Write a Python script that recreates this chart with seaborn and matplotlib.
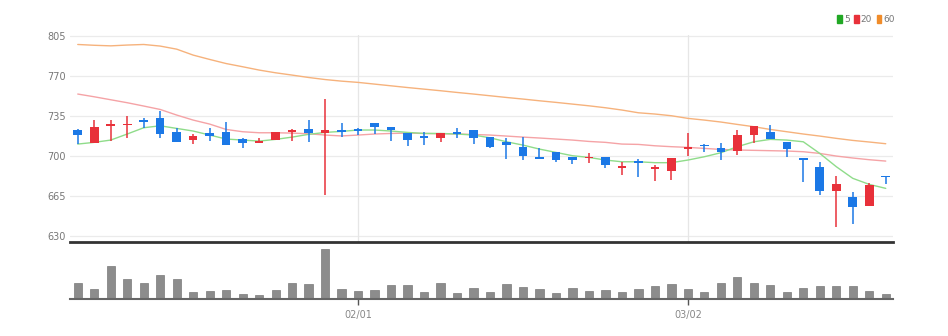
import numpy as np
import pandas as pd
import matplotlib
matplotlib.use("Agg")
import matplotlib.pyplot as plt
from matplotlib.patches import Patch
import seaborn as sns

# ---- data ----
opens = [722.8, 711.7, 726.5, 727.1, 731.5, 733.0, 721.3, 714.3, 719.8, 721.3,
         714.6, 711.4, 714.0, 720.7, 723.6, 720.4, 722.8, 723.6, 728.6, 725.1,
         719.8, 717.2, 716.0, 721.3, 722.8, 716.9, 712.0, 708.2, 699.4, 703.2,
         698.8, 698.0, 698.8, 689.2, 695.6, 688.6, 686.9, 706.1, 709.6, 707.3,
         704.4, 718.4, 720.7, 712.0, 698.5, 690.7, 669.4, 664.4, 656.5, 682.5]
closes = [718.4, 725.7, 727.7, 728.3, 730.0, 719.5, 712.0, 717.8, 717.5, 709.6,
          711.4, 713.1, 721.3, 722.8, 719.8, 722.5, 720.7, 721.9, 725.7, 723.0,
          714.0, 715.5, 719.8, 719.5, 715.5, 708.2, 709.6, 700.3, 697.4, 696.8,
          696.8, 699.4, 692.1, 691.0, 693.9, 690.4, 698.5, 707.9, 708.5, 703.8,
          718.4, 726.5, 714.6, 706.1, 696.8, 669.7, 675.2, 655.4, 674.6, 681.6]
highs = [723.5, 731.5, 731.5, 735.3, 733.5, 739.4, 724.2, 719.0, 724.8, 729.5,
         715.5, 716.0, 721.3, 723.6, 731.5, 749.9, 728.6, 724.8, 728.6, 725.1,
         719.8, 721.3, 719.8, 724.8, 722.8, 716.9, 715.5, 716.9, 706.7, 703.2,
         698.8, 702.9, 698.8, 695.0, 697.4, 692.1, 698.5, 719.8, 710.2, 711.1,
         722.8, 726.5, 727.1, 712.0, 698.5, 695.0, 682.5, 668.2, 676.1, 682.5]
lows = [710.5, 711.4, 713.0, 716.0, 724.8, 715.5, 712.0, 710.8, 713.1, 709.6,
        706.7, 711.0, 714.0, 713.0, 712.0, 665.9, 716.9, 718.4, 719.5, 713.1,
        709.0, 709.6, 712.5, 715.5, 710.2, 707.3, 697.4, 696.8, 697.4, 695.0,
        693.3, 693.6, 689.2, 683.4, 681.9, 678.4, 679.0, 700.3, 703.2, 696.5,
        700.9, 711.1, 714.6, 699.4, 677.0, 665.9, 638.2, 640.2, 656.5, 675.2]
volumes = [49, 29, 98, 59, 49, 71, 59, 22, 25, 27, 16, 13, 27, 47, 45, 150, 29, 25,
           27, 43, 43, 22, 49, 17, 33, 22, 45, 36, 29, 17, 33, 25, 26, 22, 29, 39,
           45, 31, 20, 47, 66, 48, 43, 22, 33, 40, 40, 38, 25, 16]
ma5 = [710.5, 712.0, 714.0, 719.3, 724.8, 726.5, 724.2, 721.9, 718.4, 714.9,
       714.0, 713.1, 714.6, 716.6, 719.0, 720.7, 721.6, 722.8, 722.8, 721.9,
       720.7, 719.8, 719.8, 719.3, 718.4, 716.0, 712.5, 709.6, 706.1, 703.2,
       700.3, 698.8, 696.5, 695.0, 695.0, 694.2, 694.2, 696.5, 699.4, 702.9,
       708.2, 712.5, 714.6, 714.0, 712.5, 702.3, 690.7, 680.5, 675.2, 671.7]
ma20 = [754.3, 751.9, 749.3, 746.7, 743.8, 740.8, 735.9, 731.5, 728.0, 723.3,
        721.3, 720.4, 720.4, 720.1, 719.5, 718.4, 717.6, 718.4, 719.3, 719.8,
        720.1, 719.8, 719.5, 719.3, 718.9, 718.4, 717.5, 716.6, 715.8, 714.9,
        714.0, 712.8, 712.0, 710.5, 710.2, 709.0, 708.2, 707.6, 706.7, 705.8,
        705.3, 705.0, 704.7, 704.4, 703.8, 702.3, 700.0, 698.3, 696.8, 695.6]
ma60 = [797.7, 797.0, 796.5, 797.2, 797.7, 796.3, 793.6, 788.4, 784.6, 781.0,
        778.2, 775.3, 772.9, 770.9, 768.8, 767.0, 765.6, 764.5, 763.0, 761.5,
        760.0, 758.6, 757.2, 755.7, 754.3, 752.8, 751.3, 749.9, 748.4, 747.0,
        745.5, 744.0, 742.3, 740.3, 737.9, 736.8, 735.3, 733.0, 731.5, 729.8,
        727.7, 725.7, 723.3, 721.3, 719.3, 717.5, 715.5, 713.7, 712.3, 710.8]
tick_index = [17, 37]
tick_labels = ["02/01", "03/02"]
y_ticks = [630, 665, 700, 735, 770, 805]
ma_names = ["5", "20", "60"]

df = pd.DataFrame({"idx": np.arange(len(opens)), "open": opens, "close": closes,
                   "high": highs, "low": lows, "volume": volumes,
                   "ma5": ma5, "ma20": ma20, "ma60": ma60})

UP = "#e8313a"
DOWN = "#1b78e6"
sns.set_theme(style="white")
plt.rcParams["font.family"] = ["Liberation Sans Narrow", "DejaVu Sans"]

fig = plt.figure(figsize=(9.48, 3.36), dpi=100)
L, R = 70 / 948, 893 / 948
ax = fig.add_axes([L, 1 - 242 / 336, R - L, (242 - 35) / 336])
axv = fig.add_axes([L, 1 - 299 / 336, R - L, (299 - 246) / 336], sharex=ax)

# grid
for y in y_ticks:
    ax.axhline(y, color="#ebebeb", lw=0.9, zorder=0)
for t in tick_index:
    ax.axvline(t, color="#e6e6e6", lw=0.9, zorder=0)

# moving averages
sns.lineplot(data=df, x="idx", y="ma60", ax=ax, color="#f6b27c", lw=1.0, zorder=2)
sns.lineplot(data=df, x="idx", y="ma20", ax=ax, color="#f5a3a6", lw=1.0, zorder=2)
sns.lineplot(data=df, x="idx", y="ma5", ax=ax, color="#8fdc8a", lw=1.0, zorder=2)

# candles
up = df["close"] >= df["open"]
colors = np.where(up, UP, DOWN)
ax.vlines(df["idx"], df["low"], df["high"], colors=colors, lw=1.1, zorder=3)
body_lo = np.minimum(df["open"], df["close"])
body_h = np.maximum(np.abs(df["close"] - df["open"]), 1.2)
ax.bar(df["idx"], body_h, bottom=body_lo, width=0.52, color=colors, lw=0, zorder=4)

ax.set_ylim(624.75, 806)
ax.set_xlim(-0.47, len(opens) - 1 + 0.44)
ax.set_yticks(y_ticks)
ax.set_yticklabels([str(v) for v in y_ticks])
ax.tick_params(axis="y", length=0, pad=3, labelsize=7, labelcolor="#777777")
ax.tick_params(axis="x", bottom=False, labelbottom=False)
ax.set_xlabel("")
ax.set_ylabel("")
for s in ["top", "right", "left"]:
    ax.spines[s].set_visible(False)
ax.spines["bottom"].set_color("#333333")
ax.spines["bottom"].set_linewidth(2)

# legend
handles = [Patch(color=c) for c in ["#21a824", "#e8313a", "#f08c2a"]]
fig.legend(handles, ma_names, loc="upper right", bbox_to_anchor=(895 / 948, 1 - 15 / 336),
           ncol=3, frameon=False, fontsize=6.5, handlelength=0.5, handleheight=0.9,
           handletextpad=0.25, columnspacing=0.5, borderaxespad=0, borderpad=0,
           labelcolor="#777777")

# volume
sns.barplot(data=df, x="idx", y="volume", ax=axv, native_scale=True, color="#8c8c8c",
            width=0.5, saturation=1, edgecolor="#7a7a7a", linewidth=0.5)
axv.set_ylim(0, 159)
axv.set_yticks([])
axv.set_xlabel("")
axv.set_ylabel("")
axv.set_xticks(tick_index)
axv.set_xticklabels(tick_labels)
axv.tick_params(axis="x", length=4, width=1, color="#555555", pad=4,
                labelsize=7, labelcolor="#888888", bottom=True)
for s in ["top", "right", "left"]:
    axv.spines[s].set_visible(False)
axv.spines["bottom"].set_color("#666666")
axv.spines["bottom"].set_linewidth(1.5)
axv.set_xlim(-0.47, len(opens) - 1 + 0.44)

fig.savefig("out.png", dpi=100, facecolor="white")
